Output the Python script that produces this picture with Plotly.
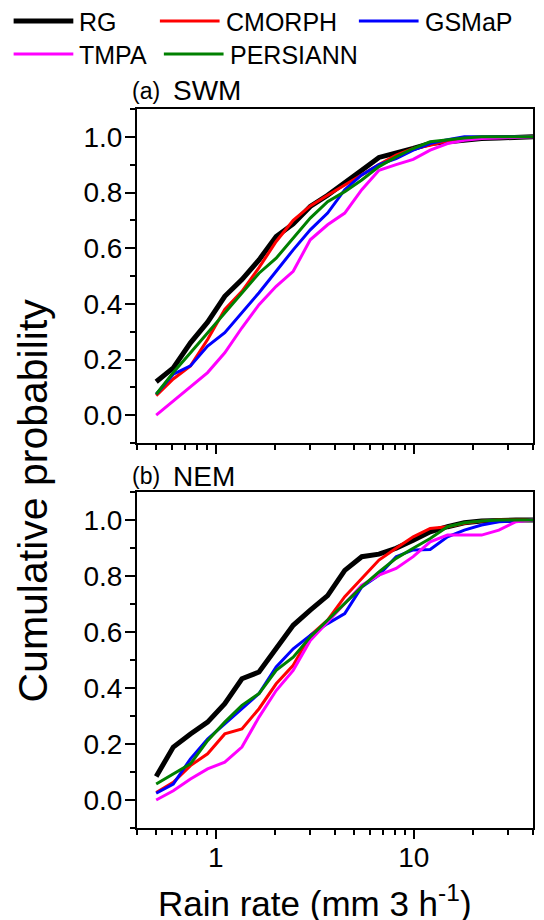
import math
import plotly.graph_objects as go

# ---------------- data ----------------
rain_rate = [0.5, 0.61, 0.745, 0.909, 1.11, 1.355, 1.653, 2.018, 2.46, 3.0, 3.67,
             4.48, 5.46, 6.67, 8.14, 9.93, 12.1, 14.8, 18.0, 22.0, 26.9, 32.8, 40.0]

series_names = ["RG", "CMORPH", "GSMaP", "TMPA", "PERSIANN"]
series_colors = ["#000000", "#FF0000", "#0000FF", "#FF00FF", "#008000"]
series_widths = [5, 3, 3, 3, 3]

# (a) SWM
rg_swm = [0.12, 0.17, 0.26, 0.334, 0.427, 0.487, 0.558, 0.642, 0.687, 0.75, 0.79,
          0.833, 0.88, 0.926, 0.94, 0.958, 0.976, 0.982, 0.99, 0.994, 0.996, 0.998, 1.0]
cmorph_swm = [0.07, 0.13, 0.177, 0.272, 0.38, 0.445, 0.53, 0.624, 0.70, 0.752, 0.79,
              0.827, 0.863, 0.90, 0.934, 0.958, 0.97, 0.986, 0.994, 0.997, 0.999, 1.0, 1.0]
gsmap_swm = [0.075, 0.147, 0.177, 0.248, 0.296, 0.367, 0.44, 0.517, 0.594, 0.666, 0.726,
             0.81, 0.863, 0.90, 0.922, 0.952, 0.976, 0.99, 1.0, 1.0, 1.0, 1.0, 1.0]
tmpa_swm = [0.0, 0.051, 0.105, 0.153, 0.224, 0.314, 0.397, 0.463, 0.517, 0.63, 0.684,
            0.726, 0.81, 0.88, 0.90, 0.919, 0.952, 0.976, 0.988, 0.994, 0.996, 0.998, 1.0]
persiann_swm = [0.075, 0.153, 0.224, 0.296, 0.367, 0.44, 0.51, 0.564, 0.636, 0.708, 0.767,
                0.803, 0.845, 0.893, 0.928, 0.958, 0.982, 0.99, 0.996, 1.0, 1.0, 1.0, 1.0]

# (b) NEM
rg_nem = [0.084, 0.189, 0.236, 0.278, 0.344, 0.433, 0.457, 0.54, 0.624, 0.678, 0.73,
          0.82, 0.869, 0.878, 0.899, 0.928, 0.958, 0.976, 0.99, 0.996, 1.0, 1.0, 1.0]
cmorph_nem = [0.027, 0.063, 0.123, 0.165, 0.236, 0.254, 0.326, 0.415, 0.481, 0.588, 0.642,
              0.726, 0.791, 0.857, 0.899, 0.94, 0.97, 0.976, 0.988, 0.996, 1.0, 1.0, 1.0]
gsmap_nem = [0.024, 0.057, 0.147, 0.218, 0.272, 0.326, 0.38, 0.475, 0.54, 0.588, 0.63,
             0.666, 0.761, 0.803, 0.869, 0.893, 0.895, 0.94, 0.964, 0.982, 0.994, 0.996, 1.0]
tmpa_nem = [0.0, 0.033, 0.075, 0.111, 0.135, 0.189, 0.296, 0.391, 0.463, 0.57, 0.636,
            0.70, 0.767, 0.803, 0.827, 0.869, 0.922, 0.946, 0.946, 0.946, 0.964, 0.994, 1.0]
persiann_nem = [0.057, 0.093, 0.129, 0.212, 0.278, 0.338, 0.38, 0.463, 0.51, 0.582, 0.642,
                0.70, 0.761, 0.815, 0.863, 0.899, 0.934, 0.976, 0.99, 0.996, 1.0, 1.0, 1.0]

x_major_ticks = [1, 10]
x_major_labels = ["1", "10"]
x_minor_ticks = [0.4, 0.5, 0.6, 0.7, 0.8, 0.9, 2, 3, 4, 5, 6, 7, 8, 9, 20, 30, 40]
y_tick_values = [0.0, 0.2, 0.4, 0.6, 0.8, 1.0]

panel_labels = [("(a)", "SWM"), ("(b)", "NEM")]
x_title = "Rain rate (mm 3 h<sup>-1</sup>)"
y_title = "Cumulative probability"

# ---------------- layout geometry (screen pixels) ----------------
SCREEN_W, SCREEN_H = 544, 920
OFF = 8                      # default page body margin
W, H = SCREEN_W - OFF, SCREEN_H - OFF
L, R, T, B = 137, 535, 109, 828
TOP_BOTTOM_PX = 443   # bottom edge of panel (a)
BOT_TOP_PX = 492      # top edge of panel (b)
FONT = "Arial, Liberation Sans, sans-serif"


def px_x(px):
    return (px - L) / (R - L)


def px_y(py):
    return (B - py) / (B - T)


fig = go.Figure()

swm = [rg_swm, cmorph_swm, gsmap_swm, tmpa_swm, persiann_swm]
nem = [rg_nem, cmorph_nem, gsmap_nem, tmpa_nem, persiann_nem]

for name, color, width, ys in zip(series_names, series_colors, series_widths, swm):
    fig.add_trace(go.Scatter(x=rain_rate, y=ys, mode="lines", name=name,
                             line=dict(color=color, width=width),
                             xaxis="x2", yaxis="y2", showlegend=False))
for name, color, width, ys in zip(series_names, series_colors, series_widths, nem):
    fig.add_trace(go.Scatter(x=rain_rate, y=ys, mode="lines", name=name,
                             line=dict(color=color, width=width),
                             xaxis="x", yaxis="y", showlegend=False))

xrange_log = [math.log10(0.4), math.log10(40)]

common_x = dict(type="log", range=xrange_log, showgrid=False, zeroline=False,
                tickmode="array", tickvals=x_major_ticks,
                ticktext=x_major_labels, ticklen=9, tickwidth=2, tickcolor="black",
                showline=True, linecolor="black", linewidth=2, mirror=True,
                ticks="outside", ticklabelstandoff=-6,
                minor=dict(ticks="outside", tickvals=x_minor_ticks, ticklen=5,
                           tickwidth=2, tickcolor="black", showgrid=False),
                tickfont=dict(family=FONT, size=28, color="black"))

top_x = dict(type="log", range=xrange_log, showgrid=False, zeroline=False,
             tickmode="array", tickvals=x_major_ticks,
             showticklabels=False, ticks="inside", ticklen=9, tickwidth=2,
             tickcolor="black", showline=False, side="top",
             minor=dict(ticks="inside", tickvals=x_minor_ticks, ticklen=5,
                        tickwidth=2, tickcolor="black", showgrid=False))

common_y = dict(range=[-0.1, 1.1], showgrid=False, zeroline=False,
                tickmode="array", tickvals=y_tick_values, tickformat=".1f",
                ticks="outside", ticklen=10, tickwidth=2, tickcolor="black",
                showline=True, linecolor="black", linewidth=2, mirror=True,
                ticklabelstandoff=-3,
                minor=dict(ticks="outside", dtick=0.1, tick0=-0.1, ticklen=5,
                           tickwidth=2, tickcolor="black", showgrid=False),
                tickfont=dict(family=FONT, size=28, color="black"))

fig.update_layout(
    width=W, height=H,
    margin=dict(l=L - OFF, r=SCREEN_W - R, t=T - OFF, b=SCREEN_H - B, pad=0),
    paper_bgcolor="white", plot_bgcolor="white",
    showlegend=False,
    xaxis=dict(common_x, anchor="y", domain=[0, 1]),
    yaxis=dict(common_y, anchor="x", domain=[0, px_y(BOT_TOP_PX)]),
    xaxis2=dict(common_x, anchor="y2", domain=[0, 1], showticklabels=False),
    yaxis2=dict(common_y, anchor="x2", domain=[px_y(TOP_BOTTOM_PX), 1]),
    xaxis3=dict(top_x, overlaying="x", anchor="y"),
    xaxis4=dict(top_x, overlaying="x2", anchor="y2"),
)

annotations = []
shapes = []

# axis titles
annotations.append(dict(text=x_title, xref="paper", yref="paper",
                        x=px_x(316), y=px_y(901), xanchor="center", yanchor="middle",
                        showarrow=False, font=dict(family=FONT, size=35, color="black")))
annotations.append(dict(text=y_title, xref="paper", yref="paper", textangle=-90,
                        x=px_x(32), y=px_y(501), xanchor="center", yanchor="middle",
                        showarrow=False, font=dict(family=FONT, size=41, color="black")))

# panel labels
for (small, big), ypx in zip(panel_labels, [91, 476]):
    annotations.append(dict(text=small, xref="paper", yref="paper",
                            x=px_x(130), y=px_y(ypx), xanchor="left", yanchor="middle",
                            showarrow=False, font=dict(family=FONT, size=23, color="black")))
    annotations.append(dict(text=big, xref="paper", yref="paper",
                            x=px_x(171), y=px_y(ypx), xanchor="left", yanchor="middle",
                            showarrow=False, font=dict(family=FONT, size=28, color="black")))

# legend (two rows)
legend_pos = [(13, 21), (160, 21), (360, 21), (13, 54), (164, 54)]
for name, color, width, (lx, ly) in zip(series_names, series_colors, series_widths, legend_pos):
    shapes.append(dict(type="line", xref="paper", yref="paper",
                       x0=px_x(lx), x1=px_x(lx + 60), y0=px_y(ly), y1=px_y(ly),
                       line=dict(color=color, width=width)))
    annotations.append(dict(text=name, xref="paper", yref="paper",
                            x=px_x(lx + 64), y=px_y(ly + 1), xanchor="left", yanchor="middle",
                            showarrow=False, font=dict(family=FONT, size=25, color="black")))

fig.update_layout(annotations=annotations, shapes=shapes)

fig.write_html("out.html")
